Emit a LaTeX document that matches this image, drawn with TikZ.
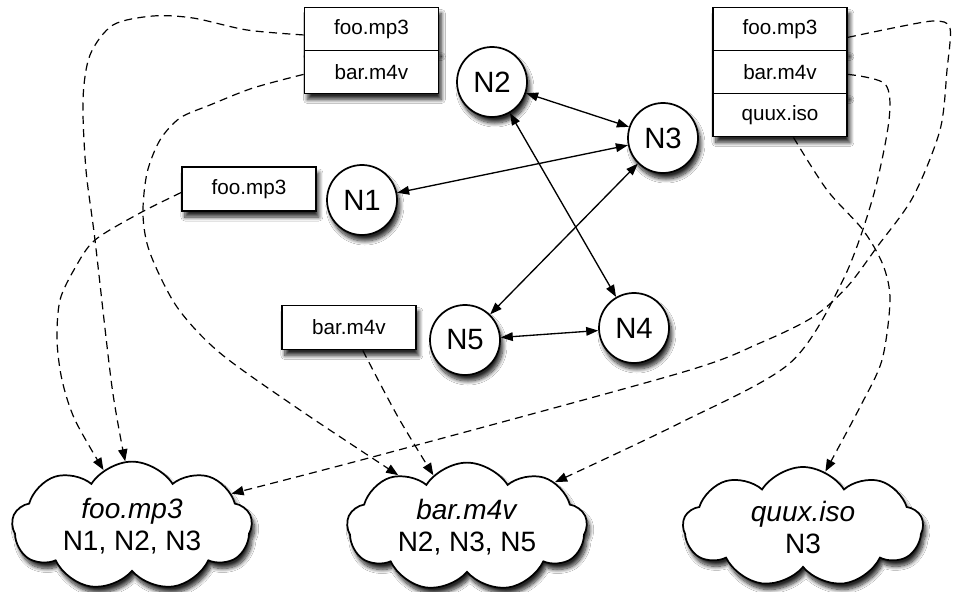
\documentclass[tikz,border=0pt]{standalone}
\usepackage{fontspec}
\setmainfont{Liberation Sans}
\usetikzlibrary{arrows.meta,shapes.symbols,shadows.blur}

\tikzset{
  softshadow/.style={blur shadow={shadow xshift=2.2pt, shadow yshift=-4.5pt,
      shadow blur radius=3pt, shadow blur steps=10, shadow opacity=85}},
  filerow/.style={draw, line width=1.4pt, fill=white, minimum width=100.5pt,
      minimum height=32.25pt, inner sep=0pt, font=\fontsize{15.5}{18}\selectfont, softshadow},
  filebox/.style={filerow, minimum height=33pt},
  peer/.style={circle, draw, line width=1.3pt, fill=white, minimum size=52.5pt,
      inner sep=0pt, font=\fontsize{22}{26}\selectfont, softshadow},
  index/.style={cloud, cloud puffs=9, cloud puff arc=115, aspect=2, draw, line width=1.3pt,
      fill=white, minimum width=180pt, minimum height=90pt, inner sep=0pt,
      align=center, font=\fontsize{21}{24}\selectfont, softshadow},
  link/.style={line width=1pt, {Triangle[length=9pt,width=6.5pt]}-{Triangle[length=9pt,width=6.5pt]}},
  pointer/.style={line width=0.9pt, dash pattern=on 6pt off 4pt,
      -{Triangle[length=9pt,width=7pt]}},
}

\begin{document}
\begin{tikzpicture}[x=0.75pt, y=-0.75pt]
  \fill[white] (0,0) rectangle (956,592);
  \useasboundingbox (0,0) rectangle (956,592);

  % stored files on the peers
  \node[filerow] (tl1) at (371.5,29) {foo.mp3};
  \node[filerow] (tl2) at (371.5,72) {bar.m4v};
  \node[filerow] (tr1) at (780,29) {foo.mp3};
  \node[filerow] (tr2) at (780,72) {bar.m4v};
  \node[filerow] (tr3) at (780,115) {quux.iso};
  \node[filebox] (mf) at (249,189) {foo.mp3};
  \node[filebox] (lb) at (349,327.5) {bar.m4v};

  % peers
  \node[peer] (n1) at (362,200) {N1};
  \node[peer] (n2) at (492,82) {N2};
  \node[peer] (n3) at (663,138) {N3};
  \node[peer] (n4) at (634,328) {N4};
  \node[peer] (n5) at (465,340) {N5};

  % index clouds
  \node[index] (fooC) at (132,526) {\textit{foo.mp3}\\N1, N2, N3};
  \node[index] (barC) at (467,527) {\textit{bar.m4v}\\N2, N3, N5};
  \node[index] (quuxC) at (803,527) {\textit{quux.iso}\\N3};

  % overlay links
  \draw[link] (n2) -- (n3);
  \draw[link] (n1) -- (n3);
  \draw[link] (n2) -- (n4);
  \draw[link] (n3) -- (n5);
  \draw[link] (n5) -- (n4);

  % publishing pointers
  \draw[pointer] plot[smooth] coordinates {(tl1.185) (247,30) (193,18) (153,16)
      (113,25) (90,55) (83,100) (86,170) (95,240) (112,387) (fooC.96)};
  \draw[pointer] plot[smooth] coordinates {(tl2.182) (253,88) (210,105) (180,118)
      (160,140) (147,173) (143,215) (150,253) (177,307) (220,353) (300,410) (barC.143)};
  \draw[pointer] plot[smooth] coordinates {(mf.183) (140,213) (95,240) (75,268)
      (60,300) (57,340) (62,380) (75,420) (fooC.117)};
  \draw[pointer] plot[smooth] coordinates {(lb.-59) (398,417) (barC.123)};
  \draw[pointer] plot[smooth] coordinates {(tr1.-7) (903,26) (935,21) (950,28)
      (947,70) (940,130) (913,197) (877,247) (847,287) (813,317) (760,343)
      (680,373) (380,455) (fooC.18)};
  \draw[pointer] plot[smooth] coordinates {(tr2.-2) (885,84) (889,120) (873,197)
      (843,280) (790,363) (680,423) (barC.27)};
  \draw[pointer] plot[smooth] coordinates {(tr3.-59) (827,190) (863,230) (883,265)
      (890,300) (882,360) (860,407) (quuxC.68)};
\end{tikzpicture}
\end{document}
